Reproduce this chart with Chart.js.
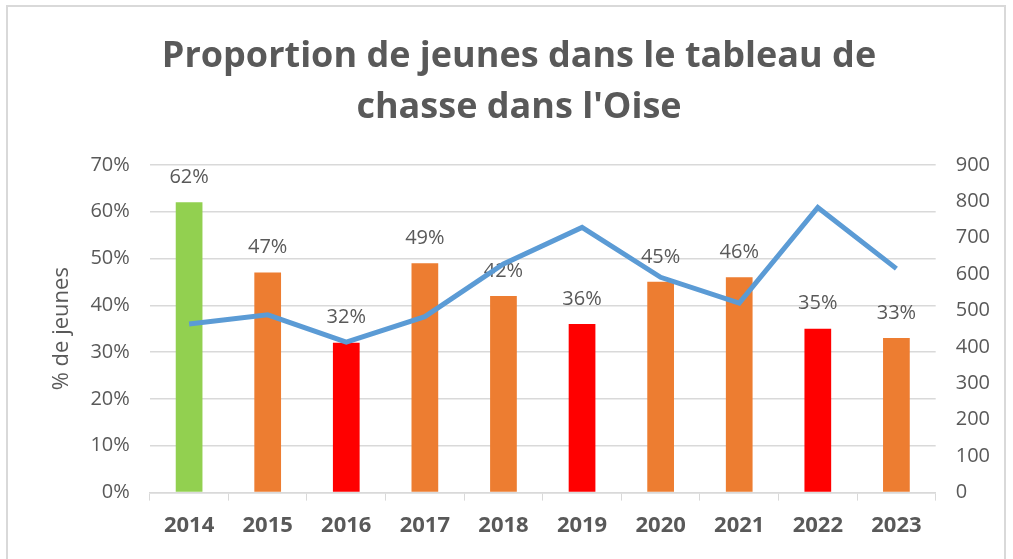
<!DOCTYPE html>
<html>
<head>
<meta charset="utf-8">
<script src="https://cdn.jsdelivr.net/npm/chart.js@4"></script>
<style>
  html, body { margin: 0; padding: 0; background: #fff; }
  #frame {
    position: absolute; left: 6px; top: 5px; width: 1000px; height: 570px;
    border: 2px solid #d9d9d9; box-sizing: border-box;
  }
  #wrap { position: absolute; left: 0; top: 0; width: 1013px; height: 559px; }
</style>
</head>
<body>
<div id="frame"></div>
<div id="wrap"><canvas id="chart"></canvas></div>
<script>
  const years = ['2014', '2015', '2016', '2017', '2018', '2019', '2020', '2021', '2022', '2023'];
  const youngPct = [62, 47, 32, 49, 42, 36, 45, 46, 35, 33];
  const barColors = ['#92D050', '#ED7D31', '#FF0000', '#ED7D31', '#ED7D31', '#FF0000', '#ED7D31', '#ED7D31', '#FF0000', '#ED7D31'];
  const tableau = [463, 488, 413, 483, 628, 728, 591, 520, 783, 615];
  const leftTicks = { min: 0, max: 70, step: 10 };
  const rightTicks = { min: 0, max: 900, step: 100 };

  const grey = '#595959';

  // percent labels above each bar
  const barLabels = {
    id: 'barLabels',
    afterDatasetDraw(chart, args) {
      if (args.index !== 0) return;
      const ctx = chart.ctx;
      ctx.save();
      ctx.font = '20px "Open Sans"';
      ctx.fillStyle = grey;
      ctx.textAlign = 'center';
      ctx.textBaseline = 'middle';
      args.meta.data.forEach((bar, i) => {
        ctx.fillText(youngPct[i] + '%', bar.x, bar.y - 25);
      });
      ctx.restore();
    }
  };

  new Chart(document.getElementById('chart'), {
    data: {
      labels: years,
      datasets: [{
        type: 'bar',
        label: '% de jeunes',
        data: youngPct,
        backgroundColor: barColors,
        yAxisID: 'y',
        order: 1,
        categoryPercentage: 1,
        barPercentage: 0.34
      }, {
        type: 'line',
        label: 'Tableau',
        data: tableau,
        borderColor: '#5B9BD5',
        borderWidth: 5,
        pointRadius: 0,
        tension: 0,
        yAxisID: 'y1',
        order: 0
      }]
    },
    options: {
      responsive: true,
      maintainAspectRatio: false,
      animation: false,
      layout: { padding: { left: 28, right: 3, top: 32, bottom: 8 } },
      plugins: {
        legend: { display: false },
        tooltip: { enabled: false },
        title: {
          display: true,
          text: ['Proportion de jeunes dans le tableau de', "chasse dans l'Oise"],
          color: grey,
          font: { family: '"Comic Sans MS", "Open Sans"', size: 36, weight: 'bold', lineHeight: 1.4 },
          padding: { top: 0, bottom: 32 }
        }
      },
      scales: {
        x: {
          grid: { display: true, drawOnChartArea: false, offset: true, color: '#d9d9d9', tickLength: 8 },
          border: { color: '#d9d9d9', width: 1.5 },
          ticks: { color: grey, font: { family: '"Open Sans"', size: 22, weight: 'bold' }, padding: 12 }
        },
        y: {
          position: 'left',
          min: leftTicks.min, max: leftTicks.max,
          ticks: { stepSize: leftTicks.step, color: grey, font: { family: '"Open Sans"', size: 20 }, padding: 20, callback: v => v + '%' },
          grid: { color: '#d9d9d9', lineWidth: 1.5, drawTicks: false },
          border: { display: false },
          title: { display: true, text: '% de jeunes', color: grey, font: { family: '"Open Sans"', size: 22 }, padding: { top: 21, bottom: 6 } },
          afterFit: scale => { scale.width -= 11; }
        },
        y1: {
          position: 'right',
          min: rightTicks.min, max: rightTicks.max,
          ticks: { stepSize: rightTicks.step, color: grey, font: { family: '"Open Sans"', size: 20 }, padding: 20 },
          grid: { display: false, drawTicks: false },
          border: { display: false }
        }
      }
    },
    plugins: [barLabels]
  });
</script>
</body>
</html>
